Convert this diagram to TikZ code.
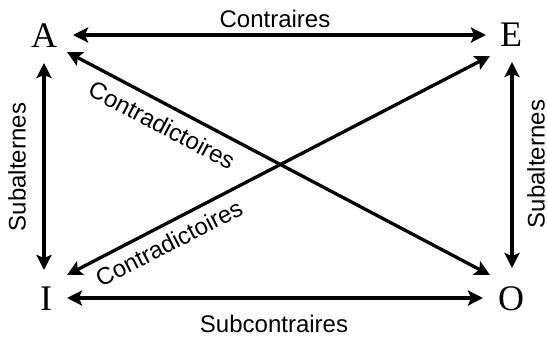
\documentclass[tikz,border=0pt]{standalone}
\usepackage{fontspec}
\setmainfont{Liberation Serif}
\newfontfamily\labfont{Liberation Sans}
\usetikzlibrary{arrows.meta}
\begin{document}
\begin{tikzpicture}[x=1pt,y=-1pt,
  corner/.style={inner sep=0pt,font=\fontsize{36}{40}\selectfont},
  lab/.style={inner sep=0pt,font=\labfont\fontsize{24}{28}\selectfont},
  rel/.style={line width=3.3pt,{Stealth[length=15pt,width=15pt,inset=3pt]}-{Stealth[length=15pt,width=15pt,inset=3pt]}}]
\useasboundingbox (0,0) rectangle (547,338);
\node[corner] (A) at (44,36) {A};
\node[corner] (E) at (511,35) {E};
\node[corner] (I) at (46,299) {I};
\node[corner] (O) at (511,299) {O};
% arrow end points
\coordinate (At) at (73,35);
\coordinate (Et) at (486,35);
\coordinate (Ib) at (67,298);
\coordinate (Ob) at (483,298);
\coordinate (Av) at (44,63);
\coordinate (Iv) at (44,270);
\coordinate (Ev) at (512,62);
\coordinate (Ov) at (512,268);
\coordinate (Ad) at (67,52);
\coordinate (Od) at (490,275);
\coordinate (Id) at (67,275);
\coordinate (Ed) at (490,56);
\draw[rel] (At) -- (Et);
\draw[rel] (Ib) -- (Ob);
\draw[rel] (Av) -- (Iv);
\draw[rel] (Ev) -- (Ov);
\draw[rel] (Ad) -- (Od);
\draw[rel] (Id) -- (Ed);
\node[lab] (c1) at (275,19) {Contraires};
\node[lab] (c2) at (274,324) {Subcontraires};
\node[lab,rotate=90] (s1) at (17,167) {Subalternes};
\node[lab,rotate=90] (s2) at (536,164) {Subalternes};
\node[lab,rotate=-27.8] (d1) at (162,125) {Contradictoires};
\node[lab,rotate=27.3] (d2) at (169,243) {Contradictoires};
\end{tikzpicture}
\end{document}
